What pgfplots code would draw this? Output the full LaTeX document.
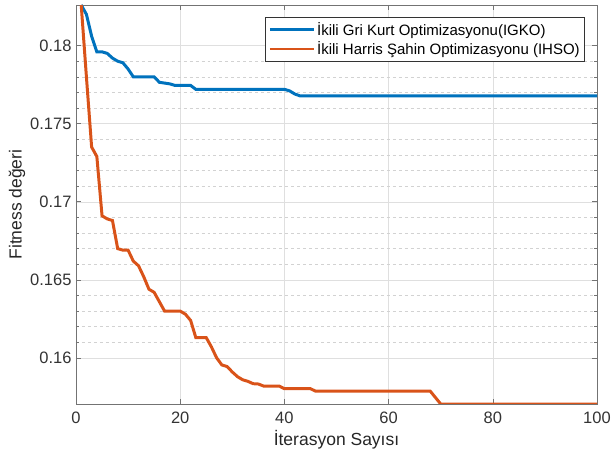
\documentclass[border=0pt]{standalone}
\usepackage{pgfplots}
\pgfplotsset{compat=1.18}
\usepackage{fontspec}
\setmainfont{Liberation Sans}
\definecolor{mblue}{rgb}{0,0.447,0.741}
\definecolor{morange}{rgb}{0.85,0.325,0.098}
\definecolor{axgray}{gray}{0.45}
\begin{document}
\begin{tikzpicture}
\begin{axis}[
  at={(0,0)}, anchor=south west,
  scale only axis, width=521bp, height=399bp,
  xmin=0, xmax=100, ymin=0.15705, ymax=0.1826,
  xtick={0,20,40,60,80,100},
  ytick={0.16,0.165,0.17,0.175,0.18},
  minor y tick num=4,
  yticklabel style={/pgf/number format/fixed,/pgf/number format/precision=3, xshift=-1bp},
  xticklabel style={yshift=-4bp},
  /pgf/number format/assume math mode=true,
  tick label style={font=\fontsize{16.5bp}{19bp}\selectfont, text=black!80},
  label style={font=\fontsize{17.5bp}{20bp}\selectfont, text=black!85},
  xlabel={İterasyon Sayısı},
  ylabel={Fitness değeri},
  xlabel style={yshift=0bp},
  ylabel style={yshift=-2bp},
  grid=both,
  major grid style={draw=gray!25, line width=0.5pt},
  minor grid style={draw=gray!35, dashed, line width=0.5pt},
  axis line style={draw=axgray, line width=0.7pt},
  tick style={draw=axgray, line width=0.6pt},
  tick align=inside,
  major tick length=5bp, minor tick length=3bp,
  legend style={at={(0.977,0.97)}, anchor=north east, draw=black!80, line width=0.6pt,
    font=\fontsize{15bp}{17bp}\selectfont, inner sep=3bp, row sep=1bp,
    legend cell align=left},
  legend image code/.code={\draw[#1, line width=2.6pt] (0bp,0bp) -- (44bp,0bp);},
]
\addplot[mblue, line width=3pt] coordinates {
(1,0.1826) (2,0.1820) (3,0.1806) (4,0.1796) (5,0.1796) (6,0.1795) (7,0.1792) (8,0.1790) (9,0.1789) (10,0.1785) (11,0.1780) (15,0.1780) (16,0.17765) (18,0.17755) (19,0.17745) (22,0.17745) (23,0.1772) (40,0.1772) (41,0.1771) (42,0.1769) (43,0.17678) (100,0.17678)
};
\addlegendentry{İkili Gri Kurt Optimizasyonu(IGKO)}
\addplot[morange, line width=3pt] coordinates {
(1,0.1826) (2,0.1780) (3,0.1735) (4,0.1729) (5,0.1691) (6,0.1689) (7,0.1688) (8,0.1670) (9,0.1669) (10,0.1669) (11,0.1662) (12,0.1659) (13,0.1652) (14,0.1644) (15,0.1642) (16,0.1636) (17,0.1630) (20,0.1630) (21,0.1628) (22,0.1624) (23,0.1613) (25,0.1613) (26,0.1607) (27,0.1600) (28,0.15955) (29,0.15945) (30,0.1591) (31,0.1588) (32,0.1586) (33,0.1585) (34,0.15835) (35,0.15833) (36,0.1582) (39,0.1582) (40,0.15803) (45,0.15803) (46,0.15787) (68,0.15787) (69,0.15746) (70,0.15705) (100,0.15705)
};
\addlegendentry{İkili Harris Şahin Optimizasyonu (IHSO)}
\end{axis}
\pgfresetboundingbox
\path (-76bp,-57bp) rectangle (536bp,404bp);
\end{tikzpicture}
\end{document}
